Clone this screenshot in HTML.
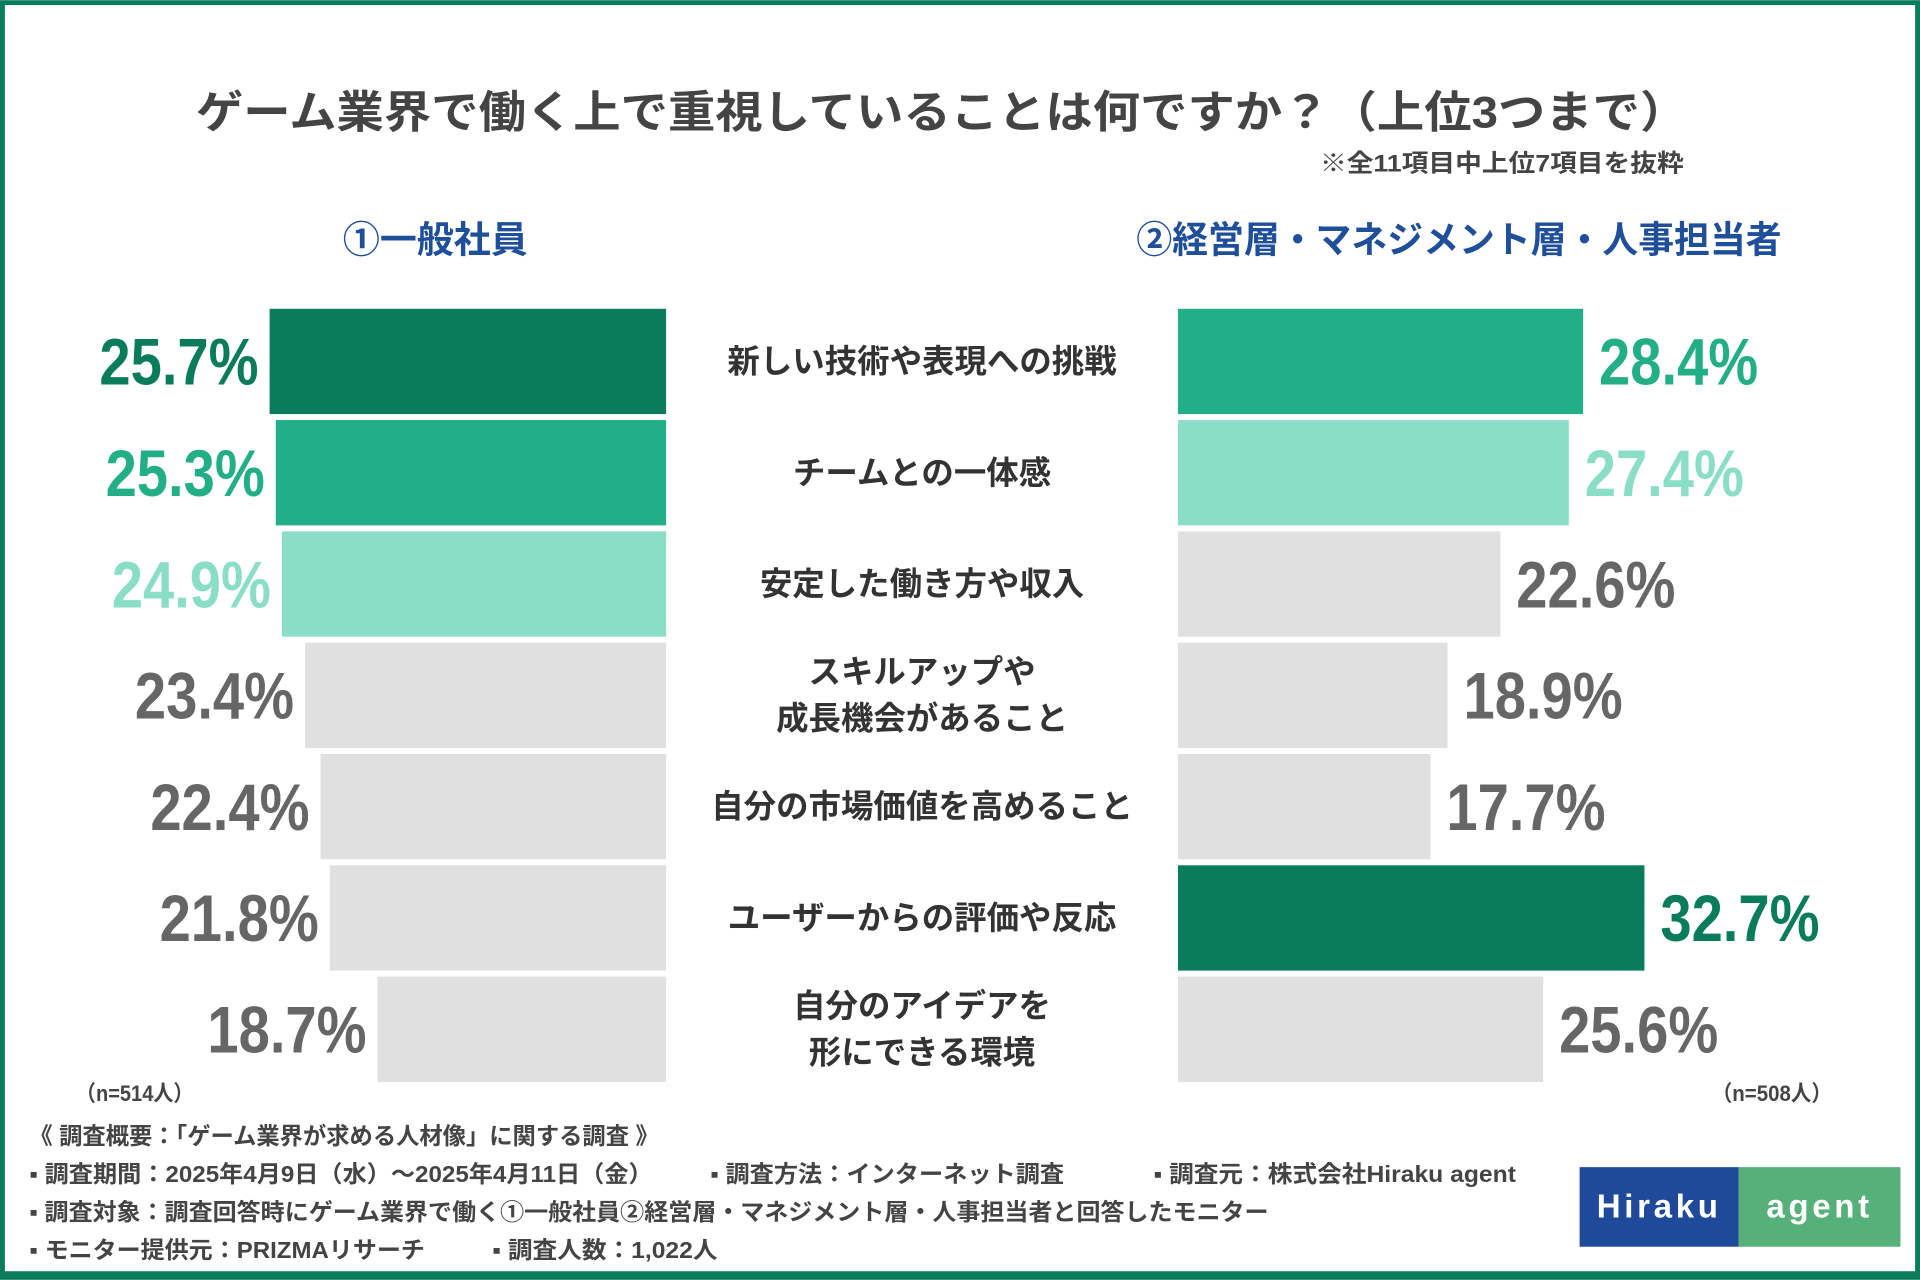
<!DOCTYPE html>
<html><head><meta charset="utf-8">
<style>
html,body{margin:0;padding:0;background:#fff;}
svg{display:block;}
text{font-family:"Liberation Sans","Noto Sans CJK JP",sans-serif;}
.num{font-family:"Liberation Sans Narrow","Liberation Sans","Noto Sans CJK JP",sans-serif;font-weight:bold;}
</style></head>
<body>
<svg id="chart" width="1920" height="1280" viewBox="0 0 1568 1045" xmlns="http://www.w3.org/2000/svg">
<rect x="2" y="2" width="1564" height="1038" fill="#fff" stroke="#0a7c5c" stroke-width="4"/>
<rect x="0" y="1039" width="1568" height="6" fill="#0a7c5c"/>
<text x="160" y="104" font-size="36" font-weight="bold" fill="#444" textLength="1218" lengthAdjust="spacingAndGlyphs">ゲーム業界で働く上で重視していることは何ですか？（上位3つまで）</text>
<text x="1078" y="140" font-size="20" font-weight="bold" fill="#444" textLength="297" lengthAdjust="spacingAndGlyphs">※全11項目中上位7項目を抜粋</text>
<text x="280" y="206" font-size="30" font-weight="bold" fill="#1f4e9a" textLength="151" lengthAdjust="spacingAndGlyphs">①一般社員</text>
<text x="928" y="206" font-size="30" font-weight="bold" fill="#1f4e9a" textLength="527" lengthAdjust="spacingAndGlyphs">②経営層・マネジメント層・人事担当者</text>
<g id="bars"></g>
<text x="62" y="899" font-size="18" font-weight="bold" fill="#444" textLength="96" lengthAdjust="spacingAndGlyphs">（n=514人）</text>
<text x="1398" y="899" font-size="18" font-weight="bold" fill="#444" textLength="98" lengthAdjust="spacingAndGlyphs">（n=508人）</text>
<g font-size="19" font-weight="bold" fill="#444">
<text x="24" y="934" textLength="514" lengthAdjust="spacingAndGlyphs">《 調査概要：「ゲーム業界が求める人材像」に関する調査 》</text>
<text x="24" y="965" textLength="509" lengthAdjust="spacingAndGlyphs">▪ 調査期間：2025年4月9日（水）～2025年4月11日（金）</text>
<text x="580" y="965" textLength="289" lengthAdjust="spacingAndGlyphs">▪ 調査方法：インターネット調査</text>
<text x="942" y="965" textLength="296" lengthAdjust="spacingAndGlyphs">▪ 調査元：株式会社Hiraku agent</text>
<text x="24" y="996" textLength="1012" lengthAdjust="spacingAndGlyphs">▪ 調査対象：調査回答時にゲーム業界で働く①一般社員②経営層・マネジメント層・人事担当者と回答したモニター</text>
<text x="24" y="1027" textLength="323" lengthAdjust="spacingAndGlyphs">▪ モニター提供元：PRIZMAリサーチ</text>
<text x="402" y="1027" textLength="184" lengthAdjust="spacingAndGlyphs">▪ 調査人数：1,022人</text>
</g>
<g>
<rect x="1290" y="953" width="130" height="65" fill="#1f4a9a"/>
<rect x="1420" y="953" width="132" height="65" fill="#55b07a"/>
<text x="1355" y="994" text-anchor="middle" font-size="27" font-weight="bold" fill="#fff" letter-spacing="3">Hiraku</text>
<text x="1486" y="994" text-anchor="middle" font-size="27" font-weight="bold" fill="#fff" letter-spacing="3">agent</text>
</g>
</svg>
<script>
const categories = [["新しい技術や表現への挑戦"],["チームとの一体感"],["安定した働き方や収入"],["スキルアップや","成長機会があること"],["自分の市場価値を高めること"],["ユーザーからの評価や反応"],["自分のアイデアを","形にできる環境"]];
const employeeValues = [25.7,25.3,24.9,23.4,22.4,21.8,18.7];
const managerValues = [28.4,27.4,22.6,18.9,17.7,32.7,25.6];

const NS = "http://www.w3.org/2000/svg";
const g = document.getElementById('bars');
const rowTop = 252, rowPitch = 90.9, barH = 86;
const leftRight = 544, leftScale = 12.6;
const rightLeft = 962, rightScale = 11.65;
const fills = ["#0a7c5c","#22ae86","#8adec6"];
const grayFill = "#e0e0e0", grayText = "#666";
function rankColors(vals){
  const sorted = vals.slice().sort((a,b)=>b-a);
  return vals.map(v=>{const r = sorted.indexOf(v); return r<3 ? fills[r] : null;});
}
const lc = rankColors(employeeValues), rc = rankColors(managerValues);
function yPos(i){ return rowTop + i*rowPitch; }
function mk(tag, attrs){ const e=document.createElementNS(NS,tag); for(const k in attrs) e.setAttribute(k,attrs[k]); return e; }

categories.forEach((cat,i)=>{
  const y = yPos(i);
  const lw = employeeValues[i]*leftScale;
  const lb = mk('rect',{x:leftRight-lw,y:y,width:lw,height:barH,fill:lc[i]||grayFill});
  
  
  g.appendChild(lb);
  const lt = mk('text',{x:leftRight-lw-9,y:y+barH/2+19,'text-anchor':'end','font-size':54,fill:lc[i]||grayText,'class':'num',textLength:130,lengthAdjust:'spacingAndGlyphs'});
  lt.textContent = employeeValues[i].toFixed(1)+'%';
  
  
  g.appendChild(lt);

  const rw = managerValues[i]*rightScale;
  const rb = mk('rect',{x:rightLeft,y:y,width:rw,height:barH,fill:rc[i]||grayFill});
  
  
  g.appendChild(rb);
  const rt = mk('text',{x:rightLeft+rw+13,y:y+barH/2+19,'font-size':54,fill:rc[i]||grayText,'class':'num',textLength:130,lengthAdjust:'spacingAndGlyphs'});
  rt.textContent = managerValues[i].toFixed(1)+'%';
  
  
  g.appendChild(rt);

  const ct = mk('text',{x:753,'text-anchor':'middle','font-size':26.5,'font-weight':'bold',fill:'#333'});
  
  
  const n = cat.length;
  cat.forEach((line,j)=>{
    const ts = mk('tspan',{x:753,y:y+barH/2+9+(j-(n-1)/2)*38});
    ts.textContent = line;
    ct.appendChild(ts);
  });
  g.appendChild(ct);
});
</script>
</body></html>
